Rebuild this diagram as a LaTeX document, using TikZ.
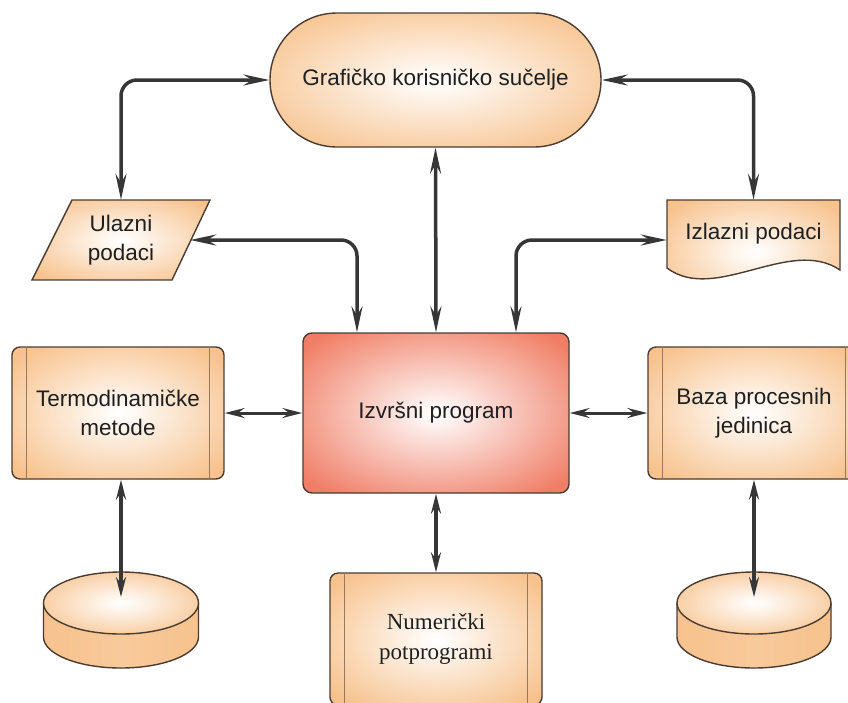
\documentclass[tikz,border=0pt]{standalone}
\usepackage{fontspec}
\setmainfont{Liberation Sans}
\newfontfamily\numserif{Liberation Serif}
\usetikzlibrary{arrows.meta,shapes.misc}
\definecolor{orng}{HTML}{F7C28D}
\definecolor{salm}{HTML}{F07E66}
\definecolor{edgec}{HTML}{4A3C32}
\definecolor{arr}{HTML}{363636}
\pgfdeclareradialshading{glow}{\pgfpoint{0bp}{0bp}}{color(0bp)=(white); color(3bp)=(white!92!orng); color(32bp)=(orng); color(50bp)=(orng)}
\pgfdeclareradialshading{hot}{\pgfpoint{0bp}{0bp}}{color(0bp)=(white); color(3bp)=(white!92!salm); color(32bp)=(salm); color(50bp)=(salm)}
\begin{document}
\begin{tikzpicture}[x=1pt,y=-1pt,
  txt/.style={font=\fontsize{22.5}{29}\selectfont, text=black!88, align=center, inner sep=0pt},
  shp/.style={draw=edgec, line width=1.4pt},
  procbox/.style={txt, shp, rectangle, rounded corners=8pt, shading=glow, minimum width=212pt, minimum height=132pt},
  sideline/.style={draw=edgec!55!orng, line width=0.8pt},
  conn/.style={draw=arr, line width=3.5pt, rounded corners=16pt, <->, >={Stealth[length=26pt,width=11pt,inset=9pt]}},
  conns/.style={draw=arr, line width=3pt, <->, >={Stealth[length=20pt,width=10pt,inset=7pt]}},
  cylside/.style={draw=edgec, line width=1.4pt, left color=orng, right color=orng, middle color=orng!88!white}
]
\useasboundingbox (0,0) rectangle (848,702);
\clip (0,0) rectangle (848,702);

% terminal
\node[txt, shp, shape=rounded rectangle, shading=glow, minimum width=331pt, minimum height=134pt] (gui) at (435.5,80) {Grafičko korisničko sučelje};

% input parallelogram
\path[shp, shading=glow] (72,200) -- (210,200) -- (172,280) -- (32,280) -- cycle;
\node[txt, minimum width=138pt, minimum height=80pt] (ul) at (121,240) {Ulazni\\podaci};

% output document
\path[shp, shading=glow] (667,200) -- (840,200) -- (840,270) .. controls (790,236) and (715,304) .. (667,268) -- cycle;
\node[txt, minimum width=173pt, minimum height=68pt] (izl) at (753.5,234) {Izlazni podaci};

% executive program
\node[txt, shp, rounded corners=9pt, shading=hot, minimum width=266pt, minimum height=160pt] (exec) at (436,413) {Izvršni program};

% predefined process boxes
\node[procbox] (termo) at (118,413) {Termodinamičke\\metode};
\draw[sideline] ([xshift=15pt]termo.north west) -- ([xshift=15pt]termo.south west);
\draw[sideline] ([xshift=-15pt]termo.north east) -- ([xshift=-15pt]termo.south east);

\node[procbox] (baza) at (754,413) {Baza procesnih\\jedinica};
\draw[sideline] ([xshift=15pt]baza.north west) -- ([xshift=15pt]baza.south west);
\draw[sideline] ([xshift=-15pt]baza.north east) -- ([xshift=-15pt]baza.south east);

\node[procbox, font=\numserif\fontsize{23}{30}\selectfont] (num) at (436,639) {Numerički\\potprogrami};
\draw[sideline] ([xshift=15pt]num.north west) -- ([xshift=15pt]num.south west);
\draw[sideline] ([xshift=-15pt]num.north east) -- ([xshift=-15pt]num.south east);

% cylinders
\path[cylside] (43.5,603) -- (43.5,637) arc[start angle=180, end angle=360, x radius=77.5pt, y radius=31pt] -- (198.5,603);
\path[shp, shading=glow] (121,603) ellipse[x radius=77.5pt, y radius=31pt];
\coordinate (db1) at (121,597);

\path[cylside] (677,603) -- (677,637) arc[start angle=180, end angle=360, x radius=77pt, y radius=31pt] -- (831,603);
\path[shp, shading=glow] (754,603) ellipse[x radius=77pt, y radius=31pt];
\coordinate (db2) at (754,597);

% connectors
\draw[conn] (gui.west) -| (ul.north);
\draw[conn] (gui.east) -| (izl.north);
\draw[conn] (ul.east) -| ([xshift=-79pt]exec.north);
\draw[conn] ([yshift=-6pt]izl.west) -| ([xshift=80pt]exec.north);
\draw[conn] (gui.south) -- (exec.north);
\draw[conns] (termo.east) -- (exec.west);
\draw[conns] (exec.east) -- (baza.west);
\draw[conns, line width=3.5pt] (exec.south) -- (num.north);
\draw[conns, line width=3.5pt] (termo.south -| db1) -- (db1);
\draw[conns, line width=3.5pt] (baza.south) -- (db2);
\end{tikzpicture}
\end{document}
